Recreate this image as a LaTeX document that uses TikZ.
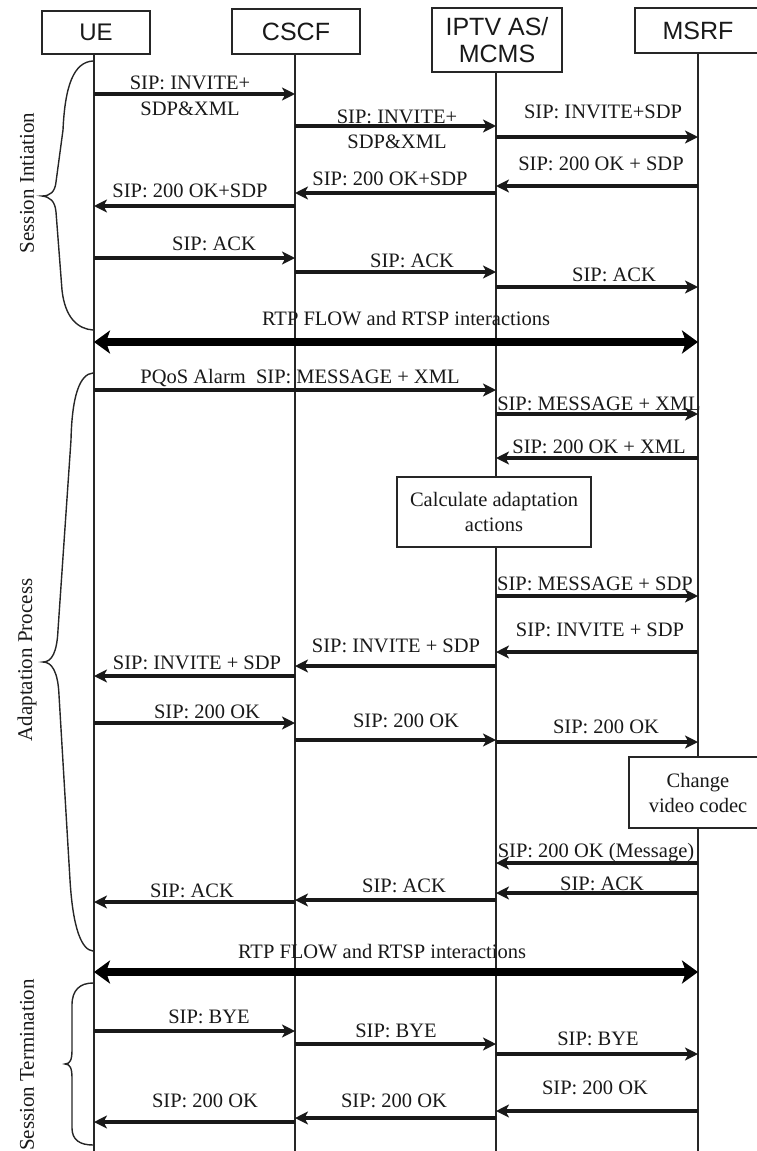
\documentclass[tikz,border=0pt]{standalone}
\usepackage{fontspec}
\setmainfont{Liberation Serif}
\newfontfamily\hdrfont{Liberation Sans}
\usetikzlibrary{arrows.meta}
\newcommand\sipmsg[7]{%
  \draw[msg] (#2 |- 0,#4) -- (#3 |- 0,#4);
  \node[lbl] (#1) at (#5,#6) {#7};}
\begin{document}
\begin{tikzpicture}[x=1pt,y=-1pt,
  hdr/.style={draw=black!85, line width=1.6pt, fill=white, inner sep=0pt,
    font=\hdrfont\fontsize{25}{27}\selectfont, text=black!90, align=center},
  life/.style={line width=1.6pt, draw=black!85},
  msg/.style={line width=3.2pt, draw=black!90,
    -{Stealth[length=13pt,width=13pt,inset=3.5pt]}},
  rtp/.style={line width=7.5pt, draw=black,
    {Stealth[length=16pt,width=23pt,inset=4pt]}-{Stealth[length=16pt,width=23pt,inset=4pt]}},
  lbl/.style={anchor=base, inner sep=0pt, font=\fontsize{20.5}{23}\selectfont, text=black!90},
  actbox/.style={draw=black!85, line width=1.6pt, fill=white, inner sep=0pt,
    align=center, font=\fontsize{20.5}{25}\selectfont, text=black!90},
  phase/.style={rotate=90, inner sep=0pt, font=\fontsize{21}{23}\selectfont, text=black!90},
  brace/.style={line width=1.4pt, draw=black!85}
]
\useasboundingbox (0,0) rectangle (757,1151);
\clip (0,0) rectangle (757,1151);

% lifeline anchors
\coordinate (ueT) at (94,54);   \coordinate (ueB) at (94,1151);
\coordinate (csT) at (295,54);  \coordinate (csB) at (295,1151);
\coordinate (ipT) at (496,72);  \coordinate (ipB) at (496,1151);
\coordinate (msT) at (698,53);  \coordinate (msB) at (698,1151);

\draw[life] (ueT) -- (ueB);
\draw[life] (csT) -- (csB);
\draw[life] (ipT) -- (ipB);
\draw[life] (msT) -- (msB);

% headers
\node[hdr, minimum width=108pt, minimum height=43pt, font=\hdrfont\fontsize{24}{26}\selectfont] (ue) at (96,32.5) {UE};
\node[hdr, minimum width=128pt, minimum height=45pt] (cscf) at (296,31.5) {CSCF};
\node[hdr, minimum width=130pt, minimum height=64pt] (iptv) at (497,40) {IPTV AS/\\MCMS};
\node[hdr, minimum width=126pt, minimum height=45pt] (msrf) at (698,30.5) {MSRF};

% session initiation
\sipmsg{m1}{ueT}{csT}{94}{190}{89}{SIP: INVITE+}
\node[lbl] (m1b) at (190,115) {SDP\&XML};
\sipmsg{m2}{csT}{ipT}{126}{397}{123}{SIP: INVITE+}
\node[lbl] (m2b) at (397,148) {SDP\&XML};
\sipmsg{m3}{ipT}{msT}{137}{603}{118}{SIP: INVITE+SDP}
\sipmsg{m4}{msT}{ipT}{186}{601}{170}{SIP: 200 OK + SDP}
\sipmsg{m5}{ipT}{csT}{193}{390}{185}{SIP: 200 OK+SDP}
\sipmsg{m6}{csT}{ueT}{206}{190}{197}{SIP: 200 OK+SDP}
\sipmsg{m7}{ueT}{csT}{258}{214}{250}{SIP: ACK}
\sipmsg{m8}{csT}{ipT}{272}{412}{267}{SIP: ACK}
\sipmsg{m9}{ipT}{msT}{287}{614}{281}{SIP: ACK}

\draw[rtp] (ueT |- 0,342) -- (msT |- 0,342);
\node[lbl] (r1) at (406,325) {RTP FLOW and RTSP interactions};

% adaptation
\sipmsg{m10}{ueT}{ipT}{390}{300}{383}{PQoS Alarm\ \ SIP: MESSAGE + XML}
\sipmsg{m11}{ipT}{msT}{414}{599}{410}{SIP: MESSAGE + XML}
\sipmsg{m12}{msT}{ipT}{458}{599}{453}{SIP: 200 OK + XML}
\node[actbox, minimum width=194pt, minimum height=70pt] (calc) at (494,512) {Calculate adaptation\\actions};
\sipmsg{m13}{ipT}{msT}{596}{595}{590}{SIP: MESSAGE + SDP}
\sipmsg{m14}{msT}{ipT}{652}{600}{636}{SIP: INVITE + SDP}
\sipmsg{m15}{ipT}{csT}{666}{396}{652}{SIP: INVITE + SDP}
\sipmsg{m16}{csT}{ueT}{676}{197}{669}{SIP: INVITE + SDP}
\sipmsg{m17}{ueT}{csT}{723}{207}{718}{SIP: 200 OK}
\sipmsg{m18}{csT}{ipT}{740}{406}{727}{SIP: 200 OK}
\sipmsg{m19}{ipT}{msT}{742}{606}{733}{SIP: 200 OK}
\node[actbox, minimum width=138pt, minimum height=71pt] (codec) at (698,792.5) {Change\\video codec};
\sipmsg{m20}{msT}{ipT}{863}{596}{857}{SIP: 200 OK (Message)}
\sipmsg{m21}{msT}{ipT}{893}{602}{890}{SIP: ACK}
\sipmsg{m22}{ipT}{csT}{900}{404}{892}{SIP: ACK}
\sipmsg{m23}{csT}{ueT}{902}{192}{897}{SIP: ACK}

\draw[rtp] (ueT |- 0,972) -- (msT |- 0,972);
\node[lbl] (r2) at (382,958) {RTP FLOW and RTSP interactions};

% termination
\sipmsg{m24}{ueT}{csT}{1031}{209}{1023}{SIP: BYE}
\sipmsg{m25}{csT}{ipT}{1044}{396}{1037}{SIP: BYE}
\sipmsg{m26}{ipT}{msT}{1054}{598}{1045}{SIP: BYE}
\sipmsg{m27}{msT}{ipT}{1111}{595}{1094}{SIP: 200 OK}
\sipmsg{m28}{ipT}{csT}{1118}{394}{1107}{SIP: 200 OK}
\sipmsg{m29}{csT}{ueT}{1122}{205}{1107}{SIP: 200 OK}

% braces
\draw[brace] (93,61) .. controls (74,62) and (65,85) .. (63,130) -- (56,182)
  .. controls (55,192) and (50,196) .. (42,196)
  .. controls (50,197) and (55,201) .. (56,212) -- (62,290)
  .. controls (65,318) and (78,329) .. (93,330);
\draw[brace] (93,373) .. controls (80,374) and (72,395) .. (71,440) -- (58,630)
  .. controls (57,652) and (52,662) .. (43,662)
  .. controls (52,662) and (58,672) .. (59,695) -- (70,880)
  .. controls (73,930) and (82,950) .. (93,951);
\draw[brace] (93,983) .. controls (80,983) and (72,990) .. (72,1005) -- (72,1050)
  .. controls (72,1060) and (70,1064) .. (65,1064)
  .. controls (70,1064) and (72,1068) .. (72,1078) -- (72,1128)
  .. controls (72,1140) and (80,1145) .. (93,1145);

\node[phase] (p1) at (27,183) {Session Intiation};
\node[phase] (p2) at (27,660) {Adaptation Process};
\node[phase] (p3) at (27,1065) {Session Termination};
\end{tikzpicture}
\end{document}
